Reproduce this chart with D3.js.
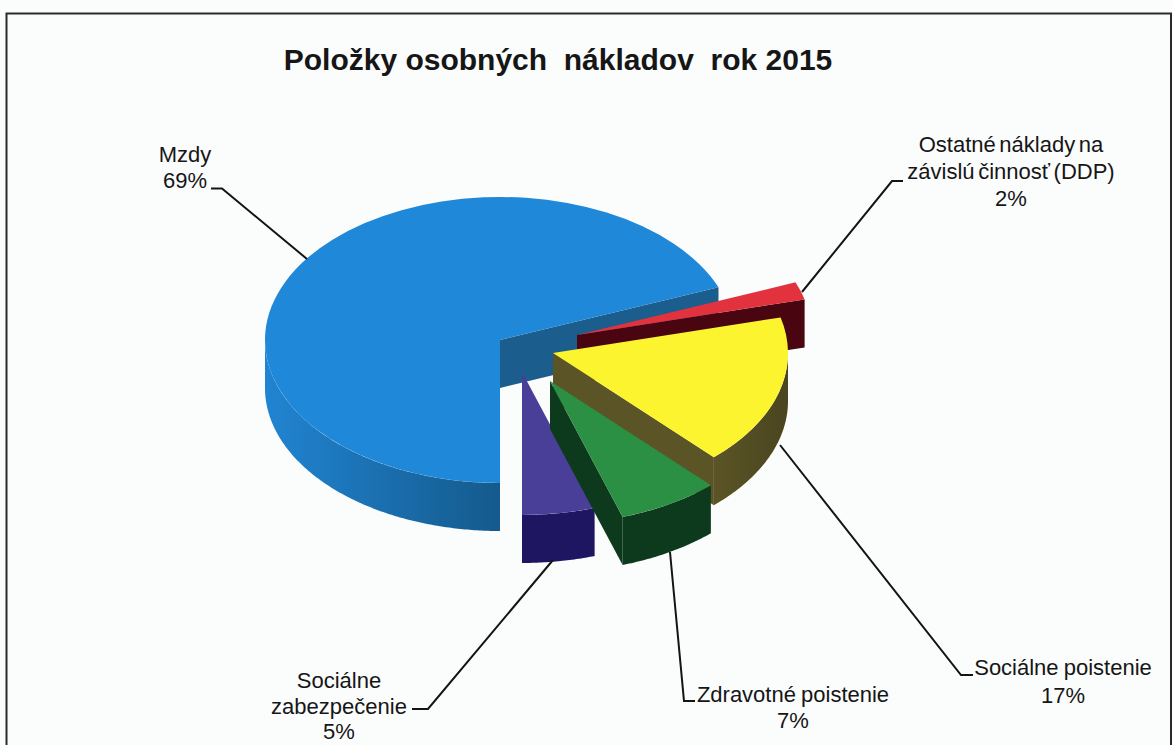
<!DOCTYPE html>
<html>
<head>
<meta charset="utf-8">
<script src="https://cdnjs.cloudflare.com/ajax/libs/d3/7.8.5/d3.min.js"></script>
<style>
    html, body { margin: 0; padding: 0; background: #fbfcfc; overflow: hidden; }
    svg { display: block; }
    text { font-family: "Liberation Sans", Arial, sans-serif; fill: #161616; white-space: pre; }
</style>
</head>
<body>
<svg width="1173" height="745"></svg>
<script>
    // values
    var categories = ['Mzdy', 'Ostatné náklady na závislú činnosť (DDP)', 'Sociálne poistenie', 'Zdravotné poistenie', 'Sociálne zabezpečenie'];
    var percents = [69, 2, 17, 7, 5];
    var chartTitle = 'Položky osobných  nákladov  rok 2015';

    // colours per slice: top face, cut wall, rim from light end to dark end
    var topColors = ['#2088d8', '#e2323e', '#fdf430', '#2c9044', '#4a3f98'];
    var wallColors = ['#1b5d8c', '#4a0610', '#5b5426', '#0d3a1d', '#1e1660'];
    var rimColors = [['#2184d2', '#145a8c'], ['#4a0610', '#4a0610'], ['#5b5426', '#4a4520'], ['#0d3a1d', '#0d3a1d'], ['#1e1660', '#1e1660']];

    // the slices were pulled out by hand in the original, so each has its own shift
    var sliceShift = [[0, 0], [77, -5], [53, 13], [50, 41], [22, 32]];

    // label blocks: line texts, centre x, first baseline; leader polyline
    var labelLayout = [
        { lines: ['Mzdy', '69%'], x: 185, y: 162, step: 26, gap: 0, leader: [[211, 188.5], [222, 188.5], [307, 259]] },
        { lines: ['Ostatné náklady na', 'závislú činnosť (DDP)', '2%'], x: 1011, y: 152, step: 27, gap: -2.5, leader: [[802, 292], [892, 181], [903, 181]] },
        { lines: ['Sociálne poistenie', '17%'], x: 1063, y: 675, step: 28, gap: -1, leader: [[780, 445], [961, 675], [973, 675]] },
        { lines: ['Zdravotné poistenie', '7%'], x: 793, y: 702, step: 26, gap: -1, leader: [[670, 552], [684, 701], [695, 701]] },
        { lines: ['Sociálne', 'zabezpečenie', '5%'], x: 339, y: 688, step: 25.5, gap: 0, leader: [[553, 560], [428, 709], [412, 709]] }
    ];

    var cx = 500, cy = 340, rx = 235, ry = 143, depth = 48;

    var svg = d3.select('svg');

    // frame, the bottom edge is cut off by the scan
    svg.append('path')
        .attr('d', 'M6.5,745V13.5H1171V745')
        .attr('fill', 'none')
        .attr('stroke', '#2a2a2a')
        .attr('stroke-width', 2);

    svg.append('text')
        .attr('x', 558)
        .attr('y', 70)
        .attr('text-anchor', 'middle')
        .attr('font-weight', 'bold')
        .attr('font-size', 30)
        .text(chartTitle);

    // slices clockwise, starting straight down
    var pie = d3.pie().sort(null).startAngle(Math.PI).endAngle(3 * Math.PI);
    var arcs = pie(percents);

    var arc = d3.arc().innerRadius(0).outerRadius(rx);

    var defs = svg.append('defs');
    rimColors.forEach(function (c, i) {
        var g = defs.append('linearGradient').attr('id', 'rim' + i);
        g.append('stop').attr('offset', '0%').attr('stop-color', c[0]);
        g.append('stop').attr('offset', '100%').attr('stop-color', c[1]);
    });

    // point on the ellipse for a pie angle
    function px(a) { return Math.sin(a) * rx; }
    function py(a) { return -Math.cos(a) * ry; }

    var rimArea = d3.area()
        .x(function (a) { return px(a); })
        .y0(function (a) { return py(a); })
        .y1(function (a) { return py(a) + depth; });

    // part of the slice's rim that faces the viewer (lower half of the ellipse)
    function frontRange(a0, a1) {
        if (a0 < 1.5 * Math.PI) return [Math.max(a0, 0.5 * Math.PI), Math.min(a1, 1.5 * Math.PI)];
        return [Math.max(a0, 2.5 * Math.PI), Math.min(a1, 3.5 * Math.PI)];
    }

    // painters order, back to front
    var drawOrder = [0, 1, 2, 4, 3];

    var slices = svg.selectAll('.slice')
        .data(drawOrder)
        .enter().append('g')
        .attr('class', 'slice')
        .attr('transform', function (i) {
            return 'translate(' + (cx + sliceShift[i][0]) + ',' + (cy + sliceShift[i][1]) + ')';
        });

    // wall at the clockwise end of the slice
    slices.append('path')
        .attr('fill', function (i) { return wallColors[i]; })
        .attr('d', function (i) {
            var a = arcs[i].endAngle;
            return 'M0,0L' + px(a) + ',' + py(a) + 'v' + depth + 'L0,' + depth + 'Z';
        });

    // outer rim
    slices.append('path')
        .attr('fill', function (i) { return 'url(#rim' + i + ')'; })
        .attr('d', function (i) {
            var r = frontRange(arcs[i].startAngle, arcs[i].endAngle);
            if (r[1] <= r[0]) return null;
            return rimArea(d3.range(r[0], r[1], 0.01).concat([r[1]]));
        });

    // top face
    slices.append('path')
        .attr('transform', 'scale(1,' + (ry / rx) + ')')
        .attr('fill', function (i) { return topColors[i]; })
        .attr('d', function (i) { return arc(arcs[i]); });

    // leaders and labels
    var leaderLine = d3.line();

    svg.selectAll('.leader')
        .data(labelLayout)
        .enter().append('path')
        .attr('class', 'leader')
        .attr('fill', 'none')
        .attr('stroke', '#141414')
        .attr('stroke-width', 2)
        .attr('d', function (d) { return leaderLine(d.leader); });

    var labels = svg.selectAll('.label')
        .data(labelLayout)
        .enter().append('text')
        .attr('class', 'label')
        .attr('text-anchor', 'middle')
        .attr('font-size', 22)
        .attr('word-spacing', function (d) { return d.gap; });

    labels.selectAll('tspan')
        .data(function (d) {
            return d.lines.map(function (t, k) { return { t: t, x: d.x, y: d.y + k * d.step }; });
        })
        .enter().append('tspan')
        .attr('x', function (d) { return d.x; })
        .attr('y', function (d) { return d.y; })
        .text(function (d) { return d.t; });
</script>
</body>
</html>
